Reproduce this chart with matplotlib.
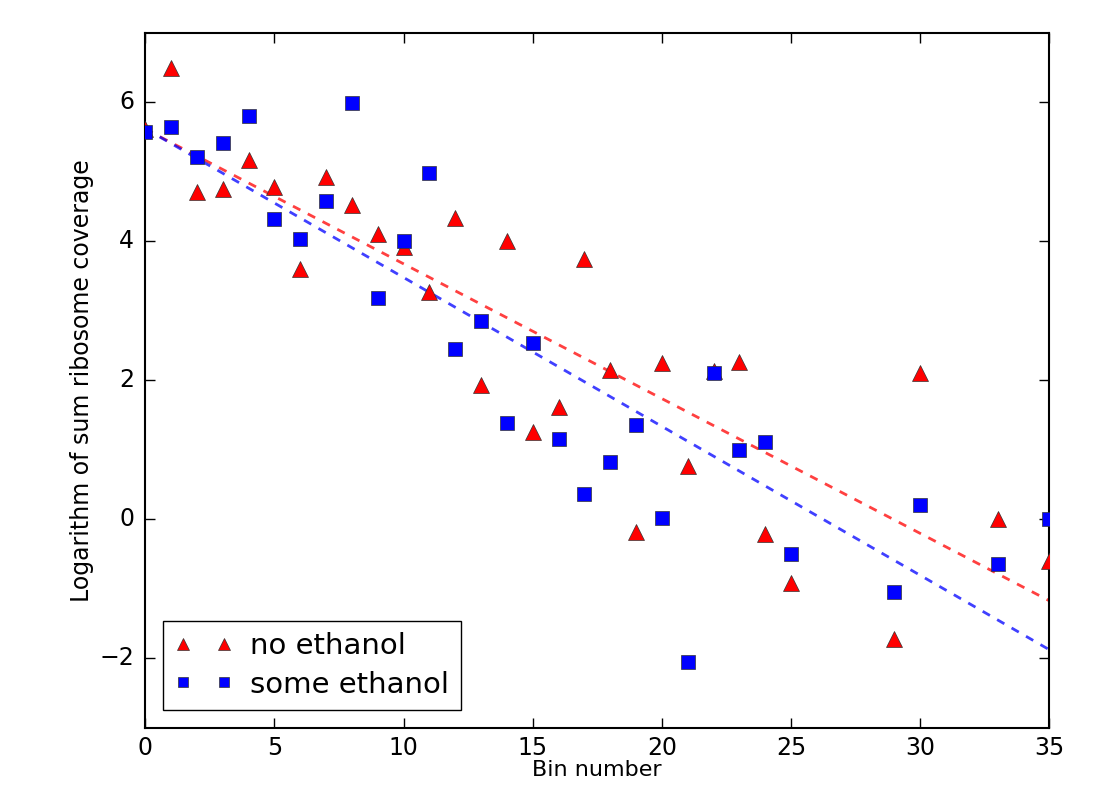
import matplotlib
matplotlib.use("Agg")
import matplotlib.pyplot as plt
import numpy as np

plt.style.use('classic')

# no ethanol (red triangles)
bins_no = [0, 1, 2, 3, 4, 5, 6, 7, 8, 9, 10, 11, 12, 13, 14, 15, 16, 17,
           18, 19, 20, 21, 22, 23, 24, 25, 29, 30, 33, 35]
cov_no = [5.62, 6.5, 4.71, 4.76, 5.17, 4.78, 3.6, 4.93, 4.53, 4.1, 3.92,
          3.27, 4.34, 1.93, 4.01, 1.26, 1.62, 3.75, 2.15, -0.19, 2.25,
          0.76, 2.13, 2.27, -0.21, -0.92, -1.72, 2.1, 0.0, -0.6]

# some ethanol (blue squares)
bins_some = [0, 1, 2, 3, 4, 5, 6, 7, 8, 9, 10, 11, 12, 13, 14, 15, 16, 17,
             18, 19, 20, 21, 22, 23, 24, 25, 29, 30, 33, 35]
cov_some = [5.58, 5.64, 5.22, 5.42, 5.8, 4.32, 4.03, 4.58, 5.99, 3.19, 4.0,
            4.98, 2.45, 2.85, 1.38, 2.54, 1.15, 0.37, 0.82, 1.35, 0.02,
            -2.06, 2.1, 1.0, 1.11, -0.5, -1.05, 0.21, -0.65, 0.0]

fig = plt.figure(figsize=(11, 7.85), dpi=100, facecolor='white')
ax = fig.add_axes([0.132, 0.073, 0.822, 0.885])

ax.plot(bins_no, cov_no, '^', color='red', mec='#333333', ms=11,
        label='no ethanol', zorder=3)
ax.plot(bins_some, cov_some, 's', color='blue', mec='#333333', ms=10.5,
        label='some ethanol', zorder=3)

# linear fits
xx = np.linspace(0, 35, 100)
p_no = np.polyfit(bins_no, cov_no, 1)
p_some = np.polyfit(bins_some, cov_some, 1)
ax.plot(xx, np.polyval(p_no, xx), '--', color='red', alpha=0.75, lw=2, zorder=2)
ax.plot(xx, np.polyval(p_some, xx), '--', color='blue', alpha=0.75, lw=2, zorder=2)

ax.set_xlim(0, 35)
ax.set_ylim(-3, 7)
ax.set_xticks([0, 5, 10, 15, 20, 25, 30, 35])
ax.set_yticks([-2, 0, 2, 4, 6])
ax.tick_params(labelsize=17, length=7, width=1, pad=8)
ax.tick_params(axis='x', pad=6)
for s in ax.spines.values():
    s.set_linewidth(1.5)

ax.set_xlabel('Bin number', fontsize=16, labelpad=0)
ax.set_ylabel('Logarithm of sum ribosome coverage', fontsize=17, labelpad=4)

ax.legend(loc='lower left', numpoints=2, fontsize=21, markerscale=0.75,
          handlelength=2.0, handletextpad=0.6, borderpad=0.4,
          borderaxespad=0.6, labelspacing=0.35)

fig.savefig('out.png', dpi=100, facecolor='white')
